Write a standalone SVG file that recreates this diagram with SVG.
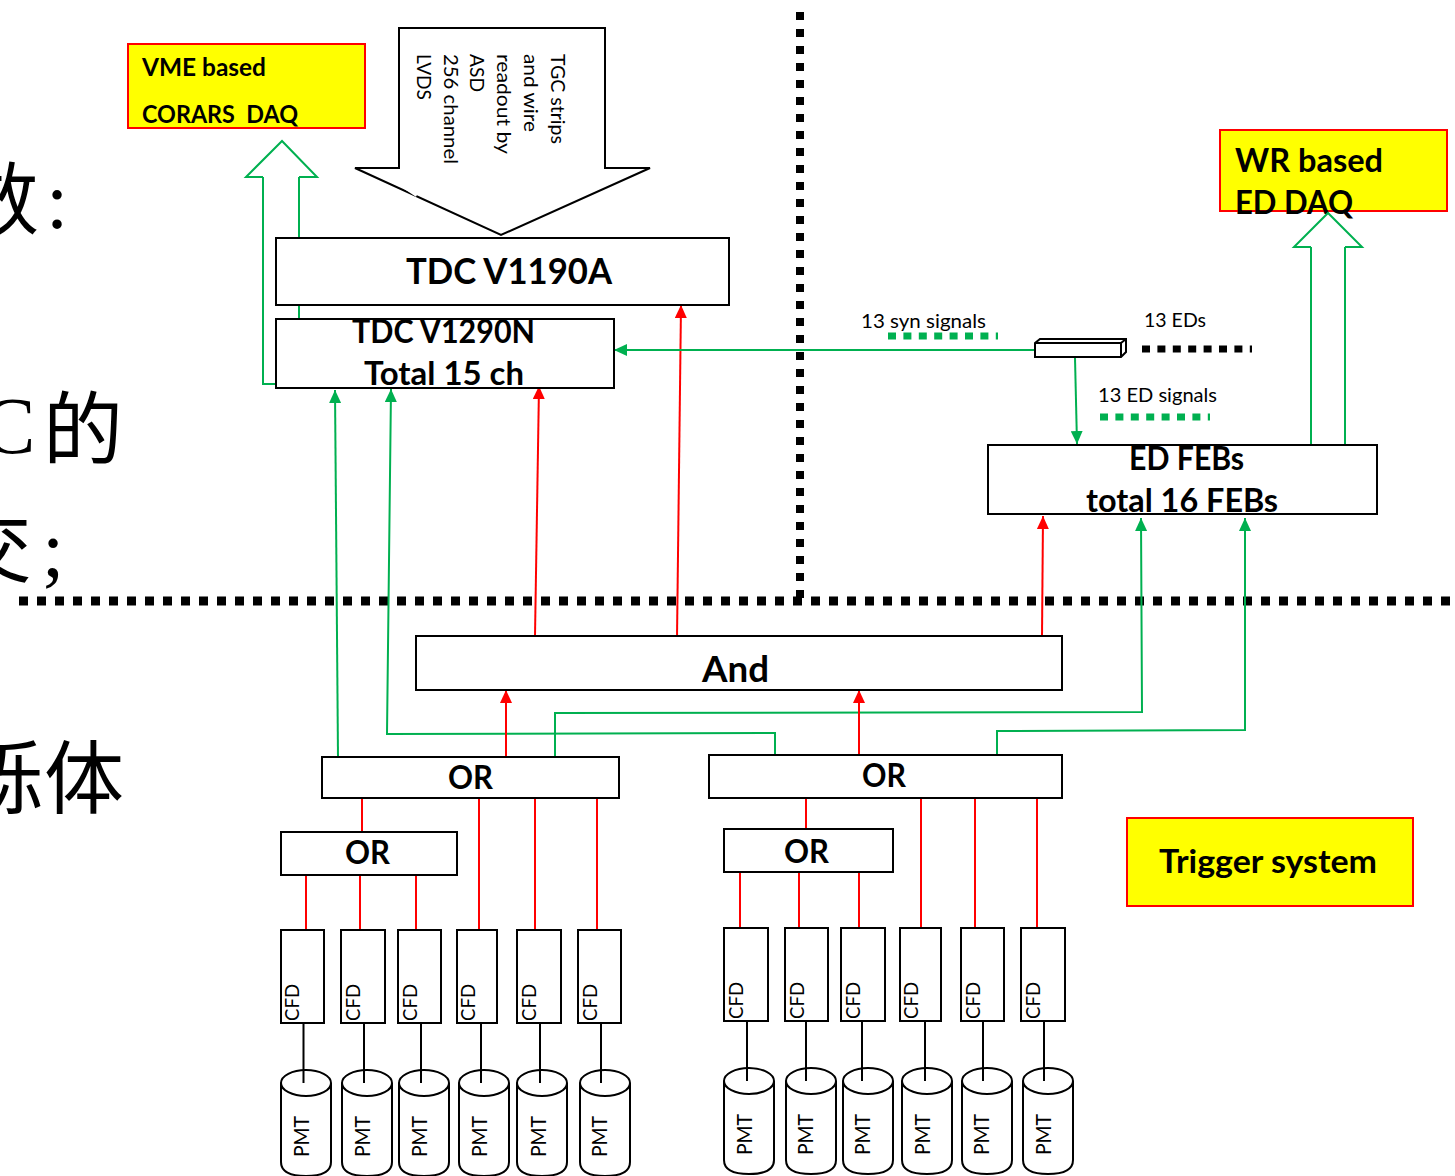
<svg xmlns="http://www.w3.org/2000/svg" width="1455" height="1176" viewBox="0 0 1455 1176">
<style>
.bg{font-family:"Liberation Serif","Noto Sans CJK SC",serif;font-size:80px;fill:#000}
.t{font-family:Lato,"Liberation Sans",sans-serif;fill:#000;white-space:pre}
.b{font-weight:700}
.box{fill:#fff;stroke:#000;stroke-width:2}
.y{fill:#ff0;stroke:#f00;stroke-width:2}
.g{fill:none;stroke:#00b050;stroke-width:2}
.r{fill:none;stroke:#f00;stroke-width:2}
.k{fill:none;stroke:#000;stroke-width:2}
.dg{fill:none;stroke:#00b050;stroke-width:7;stroke-dasharray:8 7.4}
.ga{marker-end:url(#mg)}
.ra{marker-end:url(#mr)}
</style>
<defs>
<marker id="mg" markerUnits="userSpaceOnUse" markerWidth="13" markerHeight="12" refX="13" refY="6" orient="auto"><path d="M0 0L13 6L0 12Z" fill="#00b050"/></marker>
<marker id="mr" markerUnits="userSpaceOnUse" markerWidth="13" markerHeight="12" refX="13" refY="6" orient="auto"><path d="M0 0L13 6L0 12Z" fill="#f00"/></marker>
<g id="pmt-shape"><path class="box" d="M0 13V92Q0 106 25 106T50 92V13"/><ellipse class="box" cx="25" cy="13" rx="25" ry="13"/></g>
</defs>
<rect width="1455" height="1176" fill="#fff"/>
<g id="background-text">
<text class="bg" x="-41" y="228">数</text><text class="bg" x="46" y="228" font-size="88">:</text>
<text class="bg" x="-18" y="453" font-size="86">C</text><text class="bg" x="43" y="458">的</text>
<text class="bg" x="-48" y="576">交</text><text class="bg" x="42" y="576">;</text>
<text class="bg" x="-36" y="807">烁</text><text class="bg" x="44" y="807">体</text>
</g>
<g id="dividers">
<path d="M800 12V600" fill="none" stroke="#000" stroke-width="8" stroke-dasharray="8 9"/>
<path d="M19 601H1455" fill="none" stroke="#000" stroke-width="9" stroke-dasharray="9 9"/>
<path d="M1142 349H1252" fill="none" stroke="#000" stroke-width="7" stroke-dasharray="8 7.4"/>
<path class="dg" d="M888 336H998"/>
<path class="dg" d="M1100 417H1210"/>
</g>
<g id="connectors">
<path class="g" d="M276 384H263V177"/>
<path class="g" d="M299 177V238M299 305V319"/>
<path class="g" d="M1311 444V247M1345 444V247"/>
<path class="g ga" d="M338 757L335 390"/>
<path class="g ga" d="M775 755V733L387 734L391 389"/>
<path class="r ra" d="M535 636L539 386"/>
<path class="r ra" d="M677 638L681 305"/>
<path class="g ga" d="M1035 350H614"/>
<path class="g ga" d="M1075 358L1077 444"/>
<path class="r ra" d="M1042 636L1043 516"/>
<path class="g ga" d="M555 757V713L1142 712L1141 518"/>
<path class="g ga" d="M997 755V731L1245 730V518"/>
<path class="r ra" d="M506 757V690"/>
<path class="r ra" d="M859 755V690"/>
<path class="r" d="M362 798V832M479 798V930M535 798V930M597 798V930M306 875V930M360 875V930M416 875V930"/>
<path class="r" d="M806 798V829M921 798V928M975 798V928M1037 798V928M740 872V928M799 872V928M859 872V928"/>
</g>
<g id="vme-daq"><rect class="y" x="128" y="44" width="237" height="84"/>
<text class="t b" font-size="25" x="142" y="76" textLength="124" lengthAdjust="spacingAndGlyphs">VME based</text>
<text class="t b" font-size="25" x="142" y="123" textLength="156" lengthAdjust="spacingAndGlyphs">CORARS  DAQ</text></g>
<g id="vme-arrow-head"><path class="g" d="M263 177H246L282 141L317 177H299"/></g>
<g id="tgc-arrow"><path d="M399 28H605V168H650L501 235L355 168H399Z" fill="#fff" stroke="#000" stroke-width="2"/>
<path d="M405 187L417 195" stroke="#fff" stroke-width="4"/>
<g class="t" font-size="20">
<text transform="translate(551,54) rotate(90)" textLength="90" lengthAdjust="spacingAndGlyphs">TGC strips</text>
<text transform="translate(524,54) rotate(90)" textLength="78" lengthAdjust="spacingAndGlyphs">and wire</text>
<text transform="translate(497,54) rotate(90)" textLength="100" lengthAdjust="spacingAndGlyphs">readout  by</text>
<text transform="translate(470,54) rotate(90)" textLength="38" lengthAdjust="spacingAndGlyphs">ASD</text>
<text transform="translate(444,54) rotate(90)" textLength="110" lengthAdjust="spacingAndGlyphs">256 channel</text>
<text transform="translate(417,54) rotate(90)" textLength="46" lengthAdjust="spacingAndGlyphs">LVDS</text>
</g></g>
<g id="tdc-v1190a"><rect class="box" x="276" y="238" width="453" height="67"/>
<text class="t b" font-size="36" x="406" y="284" textLength="206" lengthAdjust="spacingAndGlyphs">TDC V1190A</text></g>
<g id="tdc-v1290n"><rect class="box" x="276" y="319" width="338" height="69"/>
<text class="t b" font-size="32" x="352" y="343" textLength="183" lengthAdjust="spacingAndGlyphs">TDC V1290N</text>
<text class="t b" font-size="32" x="364" y="385" textLength="160" lengthAdjust="spacingAndGlyphs">Total 15 ch</text></g>
<g id="wr-daq"><rect class="y" x="1220" y="130" width="227" height="81"/>
<text class="t b" font-size="33" x="1235" y="172" textLength="148" lengthAdjust="spacingAndGlyphs">WR based</text>
<text class="t b" font-size="33" x="1235" y="214" textLength="118" lengthAdjust="spacingAndGlyphs">ED DAQ</text></g>
<g id="wr-arrow-head"><path class="g" d="M1311 247H1294L1328 213L1362 247H1345"/></g>
<g id="ed-device"><path d="M1035 343L1040 339H1126V352L1121 357H1035Z" fill="#fff" stroke="#000" stroke-width="2"/><path d="M1035 343H1121V357M1121 343L1126 339" class="k"/></g>
<g id="labels" class="t" font-size="20">
<text x="861" y="328" textLength="125" lengthAdjust="spacingAndGlyphs">13 syn signals</text>
<text x="1144" y="327" textLength="62" lengthAdjust="spacingAndGlyphs">13  EDs</text>
<text x="1098" y="402" textLength="119" lengthAdjust="spacingAndGlyphs">13  ED signals</text>
</g>
<g id="ed-febs"><rect class="box" x="988" y="445" width="389" height="69"/>
<text class="t b" font-size="32" x="1129" y="470" textLength="115" lengthAdjust="spacingAndGlyphs">ED FEBs</text>
<text class="t b" font-size="32" x="1086" y="512" textLength="192" lengthAdjust="spacingAndGlyphs">total 16 FEBs</text></g>
<g id="and"><rect class="box" x="416" y="636" width="646" height="54"/>
<text class="t b" font-size="36" x="702" y="682" textLength="67" lengthAdjust="spacingAndGlyphs">And</text></g>
<g id="or-1"><rect class="box" x="322" y="757" width="297" height="41"/><text class="t b" font-size="32" x="448" y="789" textLength="45" lengthAdjust="spacingAndGlyphs">OR</text></g>
<g id="or-2"><rect class="box" x="709" y="755" width="353" height="43"/><text class="t b" font-size="32" x="862" y="787" textLength="44" lengthAdjust="spacingAndGlyphs">OR</text></g>
<g id="or-3"><rect class="box" x="281" y="832" width="176" height="43"/><text class="t b" font-size="32" x="345" y="864" textLength="45" lengthAdjust="spacingAndGlyphs">OR</text></g>
<g id="or-4"><rect class="box" x="724" y="829" width="169" height="43"/><text class="t b" font-size="32" x="784" y="863" textLength="45" lengthAdjust="spacingAndGlyphs">OR</text></g>
<g id="trigger"><rect class="y" x="1127" y="818" width="286" height="88"/>
<text class="t b" font-size="32" x="1159" y="873" textLength="218" lengthAdjust="spacingAndGlyphs">Trigger system</text></g>
<g id="cfd-pmt-links" class="k"><path d="M303.500 1023V1083M364 1023V1083M421 1023V1083M481 1023V1083M540 1023V1083M601 1023V1083M747 1021V1081M806 1021V1081M862 1021V1081M925 1021V1081M983 1021V1081M1044 1021V1081" class="k"/></g>
<g id="cfd-left" class="t" font-size="20">
<rect class="box" x="281" y="930" width="43" height="93"/><text transform="translate(299,1021) rotate(-90)" textLength="37" lengthAdjust="spacingAndGlyphs">CFD</text>
<rect class="box" x="341" y="930" width="44" height="93"/><text transform="translate(360,1021) rotate(-90)" textLength="37" lengthAdjust="spacingAndGlyphs">CFD</text>
<rect class="box" x="398" y="930" width="43" height="93"/><text transform="translate(417,1021) rotate(-90)" textLength="37" lengthAdjust="spacingAndGlyphs">CFD</text>
<rect class="box" x="457" y="930" width="40" height="93"/><text transform="translate(475,1021) rotate(-90)" textLength="37" lengthAdjust="spacingAndGlyphs">CFD</text>
<rect class="box" x="517" y="930" width="44" height="93"/><text transform="translate(536,1021) rotate(-90)" textLength="37" lengthAdjust="spacingAndGlyphs">CFD</text>
<rect class="box" x="578" y="930" width="43" height="93"/><text transform="translate(597,1021) rotate(-90)" textLength="37" lengthAdjust="spacingAndGlyphs">CFD</text>
</g>
<g id="cfd-right" class="t" font-size="20">
<rect class="box" x="724" y="928" width="44" height="93"/><text transform="translate(743,1019) rotate(-90)" textLength="37" lengthAdjust="spacingAndGlyphs">CFD</text>
<rect class="box" x="785" y="928" width="43" height="93"/><text transform="translate(804,1019) rotate(-90)" textLength="37" lengthAdjust="spacingAndGlyphs">CFD</text>
<rect class="box" x="841" y="928" width="44" height="93"/><text transform="translate(860,1019) rotate(-90)" textLength="37" lengthAdjust="spacingAndGlyphs">CFD</text>
<rect class="box" x="900" y="928" width="41" height="93"/><text transform="translate(918,1019) rotate(-90)" textLength="37" lengthAdjust="spacingAndGlyphs">CFD</text>
<rect class="box" x="961" y="928" width="43" height="93"/><text transform="translate(980,1019) rotate(-90)" textLength="37" lengthAdjust="spacingAndGlyphs">CFD</text>
<rect class="box" x="1021" y="928" width="44" height="93"/><text transform="translate(1040,1019) rotate(-90)" textLength="37" lengthAdjust="spacingAndGlyphs">CFD</text>
</g>
<g id="pmt-left" class="t" font-size="22">
<use href="#pmt-shape" x="281" y="1070"/><text transform="translate(309,1157) rotate(-90)" textLength="41" lengthAdjust="spacingAndGlyphs">PMT</text>
<use href="#pmt-shape" x="342" y="1070"/><text transform="translate(370,1157) rotate(-90)" textLength="41" lengthAdjust="spacingAndGlyphs">PMT</text>
<use href="#pmt-shape" x="399" y="1070"/><text transform="translate(427,1157) rotate(-90)" textLength="41" lengthAdjust="spacingAndGlyphs">PMT</text>
<use href="#pmt-shape" x="459" y="1070"/><text transform="translate(487,1157) rotate(-90)" textLength="41" lengthAdjust="spacingAndGlyphs">PMT</text>
<use href="#pmt-shape" x="517" y="1070"/><text transform="translate(546,1157) rotate(-90)" textLength="41" lengthAdjust="spacingAndGlyphs">PMT</text>
<use href="#pmt-shape" x="580" y="1070"/><text transform="translate(607,1157) rotate(-90)" textLength="41" lengthAdjust="spacingAndGlyphs">PMT</text>
</g>
<g id="pmt-right" class="t" font-size="22">
<use href="#pmt-shape" x="724" y="1068"/><text transform="translate(752,1155) rotate(-90)" textLength="41" lengthAdjust="spacingAndGlyphs">PMT</text>
<use href="#pmt-shape" x="786" y="1068"/><text transform="translate(813,1155) rotate(-90)" textLength="41" lengthAdjust="spacingAndGlyphs">PMT</text>
<use href="#pmt-shape" x="843" y="1068"/><text transform="translate(870,1155) rotate(-90)" textLength="41" lengthAdjust="spacingAndGlyphs">PMT</text>
<use href="#pmt-shape" x="902" y="1068"/><text transform="translate(930,1155) rotate(-90)" textLength="41" lengthAdjust="spacingAndGlyphs">PMT</text>
<use href="#pmt-shape" x="962" y="1068"/><text transform="translate(989,1155) rotate(-90)" textLength="41" lengthAdjust="spacingAndGlyphs">PMT</text>
<use href="#pmt-shape" x="1023" y="1068"/><text transform="translate(1051,1155) rotate(-90)" textLength="41" lengthAdjust="spacingAndGlyphs">PMT</text>
</g>
<g id="cfd-pmt-tops" class="k"><path d="M303.500 1070V1083M364 1070V1083M421 1070V1083M481 1070V1083M540 1070V1083M601 1070V1083M747 1068V1081M806 1068V1081M862 1068V1081M925 1068V1081M983 1068V1081M1044 1068V1081"/></g>
</svg>
